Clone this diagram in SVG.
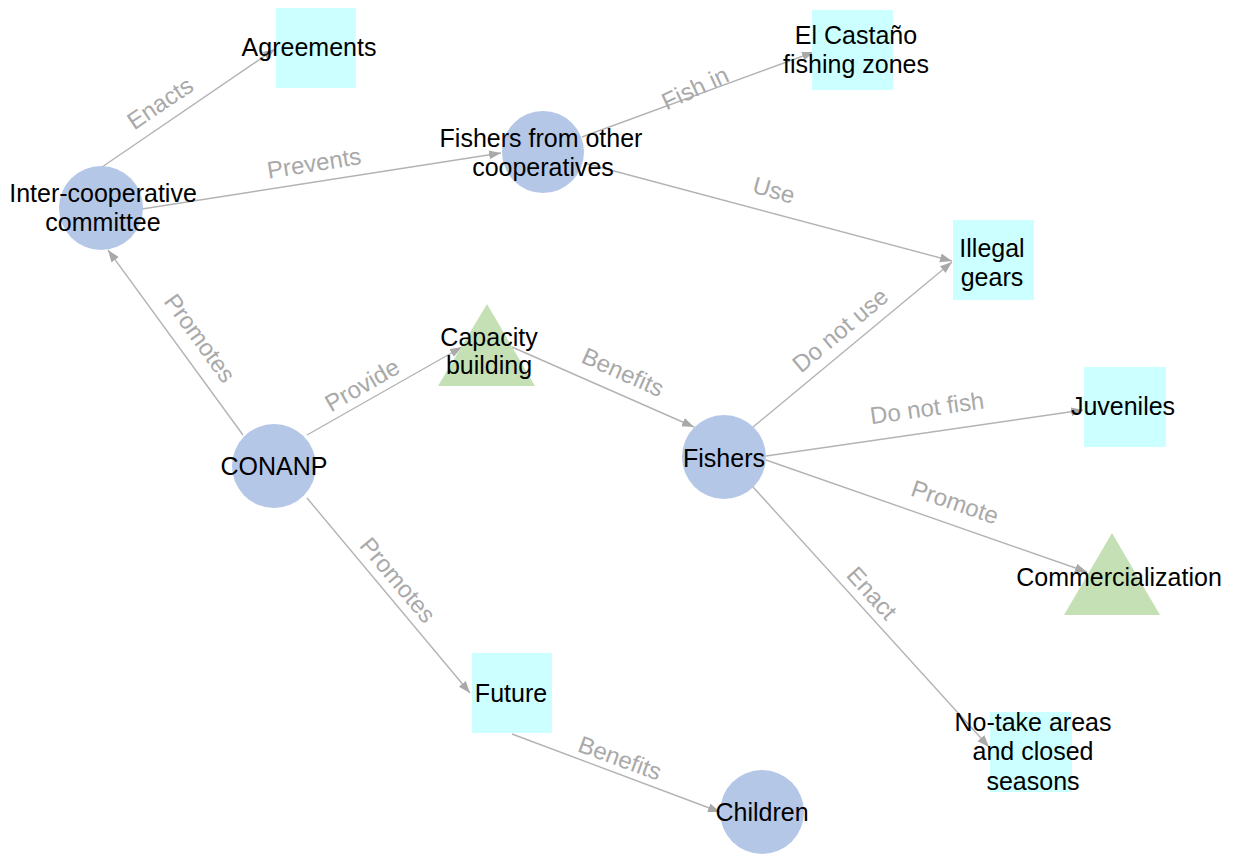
<svg xmlns="http://www.w3.org/2000/svg" width="1240" height="855" viewBox="0 0 1240 855">
<style>
.edge{stroke:#b3b3b3;stroke-width:1.4;fill:none;marker-end:url(#arr)}
.el{font-family:"Liberation Sans",Arial,sans-serif;font-size:24px;fill:#a9a9a9;text-anchor:middle}
.nt{font-family:"Liberation Sans",Arial,sans-serif;font-size:25px;fill:#000;text-anchor:middle}
.circ{fill:#b4c7e7}
.box{fill:#ccffff}
.tri{fill:#c5e0b4}
</style>
<defs>
<marker id="arr" markerUnits="userSpaceOnUse" markerWidth="13" markerHeight="10" refX="12" refY="4.5" orient="auto">
<path d="M0,0 L12,4.5 L0,9 z" fill="#a9a9a9"/>
</marker>
</defs>
<rect width="1240" height="855" fill="#fff"/>
<g id="connectors">
<line class="edge" x1="102" y1="167" x2="275" y2="49"/>
<line class="edge" x1="142" y1="209" x2="501" y2="153"/>
<line class="edge" x1="243" y1="435" x2="108" y2="250"/>
<line class="edge" x1="307" y1="435" x2="462" y2="347"/>
<line class="edge" x1="512" y1="347" x2="694" y2="427"/>
<line class="edge" x1="582" y1="137" x2="814" y2="52"/>
<line class="edge" x1="584" y1="163" x2="952" y2="261"/>
<line class="edge" x1="753" y1="427" x2="952" y2="262"/>
<line class="edge" x1="766" y1="456" x2="1083" y2="410"/>
<line class="edge" x1="766" y1="460" x2="1087" y2="572"/>
<line class="edge" x1="753" y1="487" x2="989" y2="747"/>
<line class="edge" x1="307" y1="498" x2="470" y2="693"/>
<line class="edge" x1="512" y1="734" x2="720" y2="812"/>
<text class="el" transform="translate(160,103) rotate(-34)" dy="0.35em">Enacts</text>
<text class="el" transform="translate(314,163) rotate(-9)" dy="0.35em">Prevents</text>
<text class="el" transform="translate(200,338) rotate(54)" dy="0.35em">Promotes</text>
<text class="el" transform="translate(362,385) rotate(-30)" dy="0.35em">Provide</text>
<text class="el" transform="translate(623,372) rotate(24)" dy="0.35em">Benefits</text>
<text class="el" transform="translate(695,88) rotate(-25)" dy="0.35em">Fish in</text>
<text class="el" transform="translate(774,190) rotate(16)" dy="0.35em">Use</text>
<text class="el" transform="translate(840,330) rotate(-40)" dy="0.35em">Do not use</text>
<text class="el" transform="translate(927,408) rotate(-8)" dy="0.35em">Do not fish</text>
<text class="el" transform="translate(955,502) rotate(19)" dy="0.35em">Promote</text>
<text class="el" transform="translate(872,593) rotate(48)" dy="0.35em">Enact</text>
<text class="el" transform="translate(398,580) rotate(50)" dy="0.35em">Promotes</text>
<text class="el" transform="translate(620,758) rotate(20)" dy="0.35em">Benefits</text>
</g>
<g id="agreements">
<rect class="box" x="276" y="8" width="80" height="80"/>
<text class="nt" x="309" y="47" dy="0.35em">Agreements</text>
</g>
<g id="inter-cooperative-committee">
<circle class="circ" cx="101" cy="208" r="42"/>
<text class="nt" x="103" y="193" dy="0.35em">Inter-cooperative</text>
<text class="nt" x="103" y="222" dy="0.35em">committee</text>
</g>
<g id="fishers-from-other-cooperatives">
<circle class="circ" cx="543" cy="152" r="41"/>
<text class="nt" x="541" y="138" dy="0.35em">Fishers from other</text>
<text class="nt" x="543" y="167" dy="0.35em">cooperatives</text>
</g>
<g id="el-castano-fishing-zones">
<rect class="box" x="812" y="10" width="81" height="80"/>
<text class="nt" x="856" y="35" dy="0.35em">El Castaño</text>
<text class="nt" x="856" y="64" dy="0.35em">fishing zones</text>
</g>
<g id="illegal-gears">
<rect class="box" x="953" y="220" width="81" height="80"/>
<text class="nt" x="992" y="248" dy="0.35em">Illegal</text>
<text class="nt" x="992" y="277" dy="0.35em">gears</text>
</g>
<g id="capacity-building">
<polygon class="tri" points="487,304 438,386 535,386"/>
<text class="nt" x="489" y="337" dy="0.35em">Capacity</text>
<text class="nt" x="489" y="365" dy="0.35em">building</text>
</g>
<g id="conanp">
<circle class="circ" cx="274" cy="466" r="42"/>
<text class="nt" x="274" y="466" dy="0.35em">CONANP</text>
</g>
<g id="fishers">
<circle class="circ" cx="724" cy="457" r="42"/>
<text class="nt" x="724" y="458" dy="0.35em">Fishers</text>
</g>
<g id="juveniles">
<rect class="box" x="1084" y="367" width="82" height="80"/>
<text class="nt" x="1123" y="406" dy="0.35em">Juveniles</text>
</g>
<g id="commercialization">
<polygon class="tri" points="1112,533 1064,615 1160,615"/>
<text class="nt" x="1119" y="577" dy="0.35em">Commercialization</text>
</g>
<g id="future">
<rect class="box" x="472" y="653" width="80" height="80"/>
<text class="nt" x="511" y="693" dy="0.35em">Future</text>
</g>
<g id="children">
<circle class="circ" cx="762" cy="812" r="42"/>
<text class="nt" x="762" y="812" dy="0.35em">Children</text>
</g>
<g id="no-take-areas">
<rect class="box" x="990" y="712" width="82" height="80"/>
<text class="nt" x="1033" y="722" dy="0.35em">No-take areas</text>
<text class="nt" x="1033" y="751" dy="0.35em">and closed</text>
<text class="nt" x="1033" y="781" dy="0.35em">seasons</text>
</g>
</svg>
